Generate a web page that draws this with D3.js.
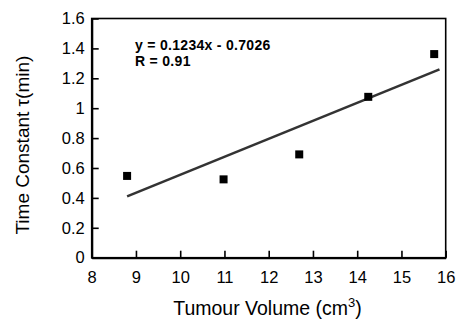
<!DOCTYPE html>
<html><head><meta charset="utf-8">
<script src="https://cdn.jsdelivr.net/npm/d3@7"></script>
<style>body{margin:0;background:#fff}svg{display:block}text{font-family:"Liberation Sans",Arial,sans-serif}</style>
</head><body>
<script>
const volume = [8.8, 10.98, 12.69, 14.25, 15.74];
const tau = [0.547, 0.524, 0.691, 1.076, 1.362];
const fitX = [8.8, 15.86];
const fitY = [0.41, 1.26];
const xTicks = [8, 9, 10, 11, 12, 13, 14, 15, 16];
const yTicks = [0, 0.2, 0.4, 0.6, 0.8, 1, 1.2, 1.4, 1.6];
const eqLines = ["y = 0.1234x - 0.7026", "R = 0.91"];

const W = 461, H = 321;
const m = {l: 91.7, r: 461 - 445.7, t: 18.5, b: 321 - 257.7};
const svg = d3.select("body").append("svg").attr("width", W).attr("height", H);
const x = d3.scaleLinear().domain([8, 16]).range([m.l, W - m.r]);
const y = d3.scaleLinear().domain([0, 1.6]).range([H - m.b, m.t]);

// frame
svg.append("rect").attr("x", x(8)).attr("y", y(1.6)).attr("width", x(16) - x(8)).attr("height", y(0) - y(1.6))
  .attr("fill", "none").attr("stroke", "#000").attr("stroke-width", 1.6);

const gx = svg.append("g").attr("transform", `translate(0,${y(0)})`)
  .call(d3.axisBottom(x).tickValues(xTicks).tickSizeInner(-7).tickSizeOuter(0).tickPadding(14).tickFormat(d3.format("d")));
const gy = svg.append("g").attr("transform", `translate(${x(8)},0)`)
  .call(d3.axisLeft(y).tickValues(yTicks).tickSizeInner(-7).tickSizeOuter(0).tickPadding(7).tickFormat(d => String(d)));
[gx, gy].forEach(g => {
  g.select(".domain").attr("stroke", "#000").attr("stroke-width", 2.2);
  g.selectAll(".tick line").attr("stroke", "#000").attr("stroke-width", 1.6);
  g.selectAll(".tick text").attr("font-size", 16.5).attr("fill", "#000");
});

// fit line
svg.append("line").attr("x1", x(fitX[0])).attr("y1", y(fitY[0])).attr("x2", x(fitX[1])).attr("y2", y(fitY[1]))
  .attr("stroke", "#333").attr("stroke-width", 2.6);

// points
svg.selectAll("rect.pt").data(volume).enter().append("rect").attr("class", "pt")
  .attr("x", (d) => x(d) - 4).attr("y", (d, i) => y(tau[i]) - 4).attr("width", 8).attr("height", 8).attr("fill", "#000");

// equation
svg.selectAll("text.eq").data(eqLines).enter().append("text").attr("class", "eq")
  .attr("x", 135).attr("y", (d, i) => 50 + i * 15.5).attr("font-size", 14).attr("letter-spacing", 0.3)
  .attr("font-weight", "bold").text(d => d);

// axis titles
const xt = svg.append("text").attr("x", 267.5).attr("y", 315).attr("text-anchor", "middle").attr("font-size", 19.5);
xt.append("tspan").text("Tumour Volume (cm");
xt.append("tspan").attr("font-size", 13).attr("dy", -8).text("3");
xt.append("tspan").attr("dy", 8).text(")");
svg.append("text").attr("transform", `translate(28.5,${(y(0) + y(1.6)) / 2 + 7}) rotate(-90)`).attr("text-anchor", "middle")
  .attr("font-size", 19).text("Time Constant τ(min)");
</script>
</body></html>
